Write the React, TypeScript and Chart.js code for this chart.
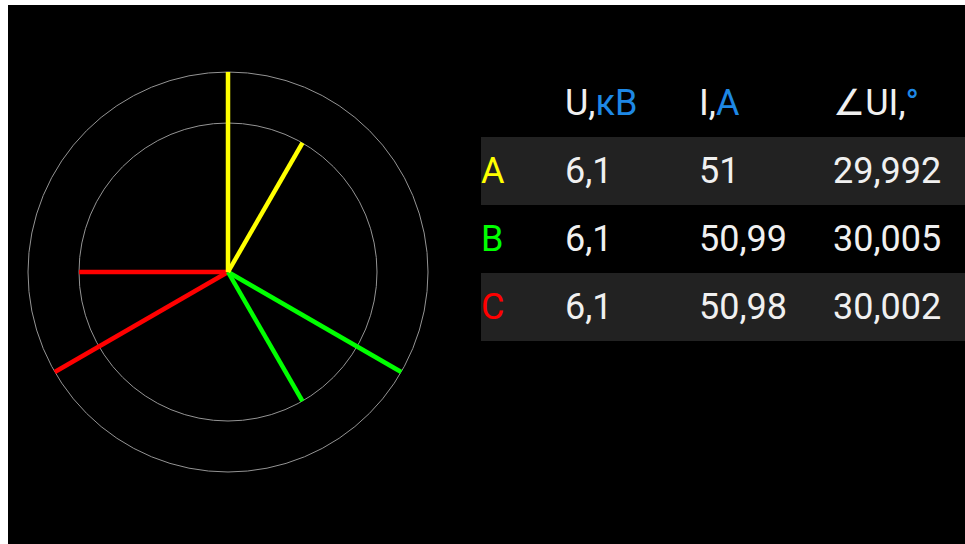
import React, { useEffect, useRef } from "react";
import { Chart, registerables } from "chart.js";

Chart.register(...registerables);

const PHASES = ["A", "B", "C"];
const PHASE_COLORS = ["#ffff00", "#00ff00", "#ff0000"];
const VOLTAGE_KV = [6.1, 6.1, 6.1];
const CURRENT_A = [51, 50.99, 50.98];
const ANGLE_UI = [29.992, 30.005, 30.002];
const VOLTAGE_POSITION_DEG = [90, -30, 210];
const VOLTAGE_FULL = 6.1;
const CURRENT_FULL = 51;
const RING_VOLTAGE = 1.0;
const RING_CURRENT = 0.745;
const RINGS = [RING_CURRENT, RING_VOLTAGE];

const fmt = (v: number) => String(v).replace(".", ",");

const ringsPlugin = {
  id: "rings",
  beforeDatasetsDraw(chart: any) {
    const xs = chart.scales.x;
    const ys = chart.scales.y;
    const cx = xs.getPixelForValue(0);
    const cy = ys.getPixelForValue(0);
    const ctx = chart.ctx;
    ctx.save();
    ctx.strokeStyle = "#949494";
    ctx.lineWidth = 1;
    RINGS.forEach((r) => {
      const rp = xs.getPixelForValue(r) - cx;
      ctx.beginPath();
      ctx.arc(cx, cy, rp, 0, Math.PI * 2);
      ctx.stroke();
    });
    ctx.restore();
  },
};

function PhasorChart() {
  const ref = useRef<HTMLCanvasElement | null>(null);
  useEffect(() => {
    if (!ref.current) return;
    const datasets: any[] = [];
    PHASES.forEach((p, i) => {
      const va = (VOLTAGE_POSITION_DEG[i] * Math.PI) / 180;
      const ca = ((VOLTAGE_POSITION_DEG[i] - ANGLE_UI[i]) * Math.PI) / 180;
      const vr = (VOLTAGE_KV[i] / VOLTAGE_FULL) * RING_VOLTAGE;
      const cr = (CURRENT_A[i] / CURRENT_FULL) * RING_CURRENT;
      datasets.push({
        label: "U" + p,
        data: [
          { x: 0, y: 0 },
          { x: vr * Math.cos(va), y: vr * Math.sin(va) },
        ],
        showLine: true,
        borderColor: PHASE_COLORS[i],
        borderWidth: 4.5,
        pointRadius: 0,
        borderCapStyle: "butt",
      });
      datasets.push({
        label: "I" + p,
        data: [
          { x: 0, y: 0 },
          { x: cr * Math.cos(ca), y: cr * Math.sin(ca) },
        ],
        showLine: true,
        borderColor: PHASE_COLORS[i],
        borderWidth: 4.5,
        pointRadius: 0,
        borderCapStyle: "butt",
      });
    });
    const chart = new Chart(ref.current, {
      type: "scatter",
      data: { datasets },
      options: {
        responsive: false,
        animation: false,
        layout: { padding: 0 },
        plugins: { legend: { display: false }, tooltip: { enabled: false } },
        scales: {
          x: { type: "linear", min: -1.05, max: 1.05, display: false },
          y: { type: "linear", min: -1.05, max: 1.05, display: false },
        },
      },
      plugins: [ringsPlugin],
    } as any);
    return () => chart.destroy();
  }, []);
  return (
    <canvas
      ref={ref}
      width={420}
      height={420}
      style={{ position: "absolute", left: 10, top: 57, width: 420, height: 420 }}
    />
  );
}

const BLUE = "#1e88e5";
const WHITE = "#f0f0f0";
const COL_X = [0, 84, 218, 352];
const ROW_H = 68;
const TABLE_TOP = 64;
const TABLE_LEFT = 473;

export default function App() {
  const cell = (x: number, row: number, content: React.ReactNode, size: number, color: string) => (
    <div
      style={{
        position: "absolute",
        left: x,
        top: row * ROW_H,
        height: ROW_H,
        lineHeight: ROW_H + "px",
        fontSize: size,
        fontWeight: 400,
        color,
        whiteSpace: "nowrap",
      }}
    >
      {content}
    </div>
  );
  return (
    <div
      style={{
        position: "absolute",
        left: 8,
        top: 5,
        width: 957,
        height: 539,
        background: "#000",
        overflow: "hidden",
        fontFamily: "Roboto, 'DejaVu Sans', sans-serif",
      }}
    >
      <PhasorChart />
      <div style={{ position: "absolute", left: TABLE_LEFT, top: TABLE_TOP, width: 957 - TABLE_LEFT, height: ROW_H * 4 }}>
        {[1, 3].map((r) => (
          <div
            key={r}
            style={{ position: "absolute", left: 0, right: 0, top: r * ROW_H, height: ROW_H, background: "#222222" }}
          />
        ))}
        {cell(COL_X[1], 0, <>U,<span style={{ color: BLUE }}>кВ</span></>, 36, WHITE)}
        {cell(COL_X[2], 0, <>I,<span style={{ color: BLUE }}>А</span></>, 36, WHITE)}
        {cell(COL_X[3], 0, <>∠UI,<span style={{ color: BLUE }}>°</span></>, 36, WHITE)}
        {PHASES.map((p, i) => (
          <React.Fragment key={p}>
            {cell(COL_X[0], i + 1, p, 36, PHASE_COLORS[i])}
            {cell(COL_X[1], i + 1, fmt(VOLTAGE_KV[i]), 36, WHITE)}
            {cell(COL_X[2], i + 1, fmt(CURRENT_A[i]), 36, WHITE)}
            {cell(COL_X[3], i + 1, fmt(ANGLE_UI[i]), 36, WHITE)}
          </React.Fragment>
        ))}
      </div>
    </div>
  );
}
